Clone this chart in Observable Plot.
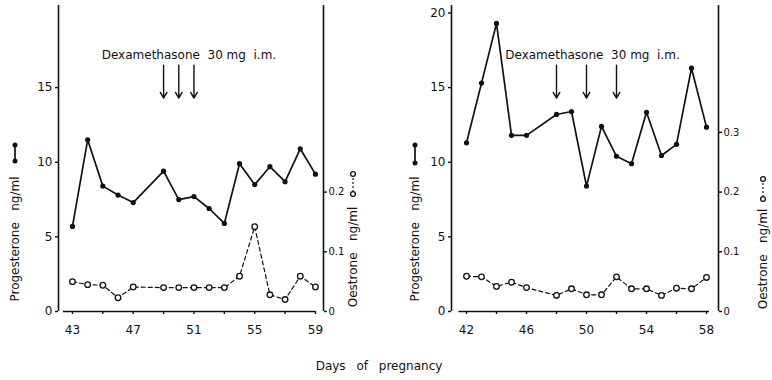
<!DOCTYPE html>
<html>
<head>
<meta charset="utf-8">
<script src="https://cdn.jsdelivr.net/npm/d3@7"></script>
<script src="https://cdn.jsdelivr.net/npm/@observablehq/plot@0.6"></script>
<style>
  html, body { margin: 0; padding: 0; background: white; }
  #wrap { position: relative; width: 772px; height: 380px; font-family: "DejaVu Sans", sans-serif; color: #111; overflow: hidden; }
  .panel { position: absolute; top: 0; }
  .vlabel { position: absolute; transform: translate(-50%, -50%) rotate(-90deg); white-space: pre; font-size: 12px; line-height: 1; }
  .sym { position: absolute; }
  #caption { position: absolute; left: 0; width: 772px; top: 359px; text-align: center; font-size: 12px; word-spacing: 7px; padding-right: 14px; box-sizing: border-box; }
</style>
</head>
<body>
<div id="wrap"></div>
<script>
// ---------- data ----------
const leftDays = [43, 44, 45, 46, 47, 49, 50, 51, 52, 53, 54, 55, 56, 57, 58, 59];
const leftProgesterone = [5.7, 11.5, 8.4, 7.8, 7.3, 9.4, 7.5, 7.7, 6.9, 5.9, 9.9, 8.5, 9.7, 8.7, 10.9, 9.2];
const leftOestrone = [0.050, 0.045, 0.044, 0.023, 0.041, 0.040, 0.040, 0.040, 0.040, 0.040, 0.059, 0.142, 0.028, 0.020, 0.059, 0.041];
const leftDexDays = [49, 50, 51];

const rightDays = [42, 43, 44, 45, 46, 48, 49, 50, 51, 52, 53, 54, 55, 56, 57, 58];
const rightProgesterone = [11.3, 15.3, 19.3, 11.8, 11.8, 13.2, 13.4, 8.4, 12.4, 10.4, 9.9, 13.35, 10.45, 11.2, 16.3, 12.35];
const rightOestrone = [0.059, 0.058, 0.042, 0.049, 0.040, 0.027, 0.038, 0.028, 0.028, 0.058, 0.038, 0.038, 0.027, 0.039, 0.038, 0.057];
const rightDexDays = [48, 50, 52];

const leftProgTicks = [0, 5, 10, 15];
const rightProgTicks = [0, 5, 10, 15, 20];
const leftOestTicks = [0, 0.1, 0.2];
const rightOestTicks = [0, 0.1, 0.2, 0.3];
const leftDayLabels = [43, 47, 51, 55, 59];
const rightDayLabels = [42, 46, 50, 54, 58];

const dexLabel = "Dexamethasone  30 mg  i.m.";
const progLabel = "Progesterone   ng/ml";
const oestLabel = "Oestrone   ng/ml";
const xCaption = "Days of pregnancy";

// oestrone drawn against the progesterone scale: 0.1 ng/ml ≙ 4 ng/ml
const K = 40;
const Y_MAX = 20.5;
const ARROW_TOP = 16.5, ARROW_BOTTOM = 14.3, LABEL_Y = 17.15;

function panel(cfg) {
  const prog = cfg.days.map((d, i) => ({day: d, v: cfg.prog[i]}));
  const oest = cfg.days.map((d, i) => ({day: d, v: cfg.oest[i] * K}));
  const [x0, x1] = cfg.xDomain;
  const tickDays = d3.range(cfg.labels[0], cfg.labels[cfg.labels.length - 1] + 1, 2);
  return Plot.plot({
    width: 386, height: 345,
    marginLeft: cfg.marginLeft, marginRight: cfg.marginRight, marginTop: 5, marginBottom: 34,
    x: {domain: cfg.xDomain},
    y: {domain: [0, Y_MAX]},
    style: {fontFamily: "DejaVu Sans, sans-serif", color: "#111", background: "white", overflow: "visible"},
    marks: [
      Plot.ruleX([x0], {y1: 0, y2: Y_MAX, strokeWidth: 1.6}),
      Plot.ruleX([x1], {y1: 0, y2: Y_MAX, strokeWidth: 1.6}),
      Plot.ruleY([0], {x1: cfg.baseStart, x2: cfg.baseEnd, strokeWidth: 1.6}),
      Plot.axisY({ticks: cfg.progTicks, tickSize: 3, tickPadding: 3, fontSize: 12, label: null, strokeWidth: 1.4}),
      Plot.axisY({anchor: "right", ticks: cfg.oestTicks.map(v => v * K), tickFormat: d => d === 0 ? "0" : (d / K).toFixed(1),
                  tickSize: 3, tickPadding: 2, fontSize: 10, label: null, strokeWidth: 1.4}),
      Plot.axisX({ticks: tickDays, tickFormat: d => cfg.labels.includes(d) ? String(d) : "",
                  tickSize: 3, tickPadding: 11, fontSize: 12, label: null, strokeWidth: 1.4}),
      Plot.line(oest, {x: "day", y: "v", stroke: "#111", strokeWidth: 1.2, strokeDasharray: "4,3"}),
      Plot.dot(oest, {x: "day", y: "v", r: 2.8, fill: "white", stroke: "#111", strokeWidth: 1.3}),
      Plot.line(prog, {x: "day", y: "v", stroke: "#111", strokeWidth: 1.7}),
      Plot.dot(prog, {x: "day", y: "v", r: 2.6, fill: "#111"}),
      Plot.arrow(cfg.dex, {x1: d => d, x2: d => d, y1: ARROW_TOP, y2: ARROW_BOTTOM, stroke: "#111", strokeWidth: 1.4, headLength: 7}),
      Plot.text([dexLabel], {x: cfg.labelX, y: LABEL_Y, fontSize: 12, fill: "#111", text: d => d})
    ]
  });
}

const wrap = document.getElementById("wrap");

const left = panel({
  days: leftDays, prog: leftProgesterone, oest: leftOestrone, dex: leftDexDays,
  xDomain: [42.08, 59.53], marginLeft: 58, marginRight: 63,
  baseStart: 42.4, baseEnd: 59.0, labels: leftDayLabels,
  progTicks: leftProgTicks, oestTicks: leftOestTicks, labelX: 50.67
});
left.classList.add("panel"); left.style.left = "0px";
wrap.appendChild(left);

const right = panel({
  days: rightDays, prog: rightProgesterone, oest: rightOestrone, dex: rightDexDays,
  xDomain: [41.0, 58.8], marginLeft: 65, marginRight: 54,
  baseStart: 41.5, baseEnd: 58.2, labels: rightDayLabels,
  progTicks: rightProgTicks, oestTicks: rightOestTicks, labelX: 50.4
});
right.classList.add("panel"); right.style.left = "386px";
wrap.appendChild(right);

// rotated axis titles with their line-style keys
function vlabel(text, cx, cy) {
  const d = document.createElement("div");
  d.className = "vlabel"; d.textContent = text;
  d.style.left = cx + "px"; d.style.top = cy + "px";
  wrap.appendChild(d);
}
function key(kind, cx, yTop, yBot) {
  const ns = "http://www.w3.org/2000/svg";
  const s = document.createElementNS(ns, "svg");
  const h = yBot - yTop + 8;
  s.setAttribute("width", 10); s.setAttribute("height", h);
  s.setAttribute("class", "sym");
  s.style.left = (cx - 5) + "px"; s.style.top = (yTop - 4) + "px";
  const ln = document.createElementNS(ns, "line");
  ln.setAttribute("x1", 5); ln.setAttribute("x2", 5); ln.setAttribute("y1", 4); ln.setAttribute("y2", h - 4);
  ln.setAttribute("stroke", "#111");
  ln.setAttribute("stroke-width", kind === "solid" ? 1.7 : 1.2);
  if (kind !== "solid") ln.setAttribute("stroke-dasharray", "2,2");
  s.appendChild(ln);
  for (const y of [4, h - 4]) {
    const c = document.createElementNS(ns, "circle");
    c.setAttribute("cx", 5); c.setAttribute("cy", y); c.setAttribute("r", kind === "solid" ? 2.5 : 2.4);
    c.setAttribute("fill", kind === "solid" ? "#111" : "white");
    c.setAttribute("stroke", "#111"); c.setAttribute("stroke-width", kind === "solid" ? 0 : 1.3);
    s.appendChild(c);
  }
  wrap.appendChild(s);
}

vlabel(progLabel, 15, 239);  key("solid", 15, 145, 161);
vlabel(oestLabel, 353, 257); key("dash", 353, 174, 194);
vlabel(progLabel, 415, 239); key("solid", 415, 145, 163);
vlabel(oestLabel, 763, 259); key("dash", 763, 179, 199);

const cap = document.createElement("div");
cap.id = "caption"; cap.textContent = xCaption;
wrap.appendChild(cap);
</script>
</body>
</html>
